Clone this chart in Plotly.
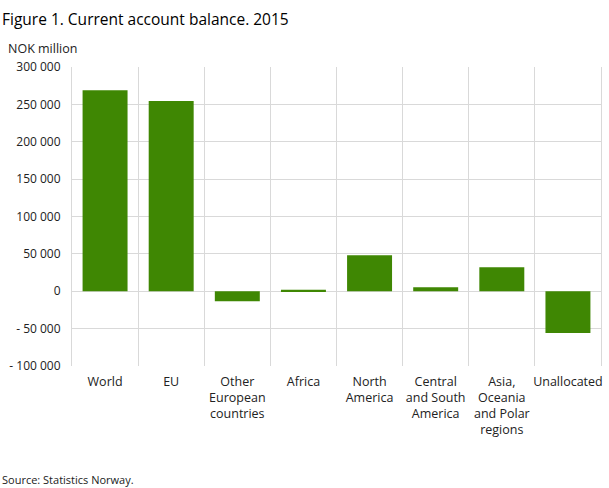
import plotly.graph_objects as go

categories = ["World", "EU", "Other<br>European<br>countries", "Africa", "North<br>America",
              "Central<br>and South<br>America", "Asia,<br>Oceania<br>and Polar<br>regions", "Unallocated"]
values = [269000, 254500, -13500, 2000, 48000, 5500, 32000, -56000]
y_tickvals = [-100000, -50000, 0, 50000, 100000, 150000, 200000, 250000, 300000]
y_ticktext = ["- 100 000", "- 50 000", "0", "50 000", "100 000", "150 000", "200 000", "250 000", "300 000"]

FONT = "Open Sans"
GRID = "#d9d9d9"
idx = list(range(len(categories)))

fig = go.Figure()
fig.add_trace(go.Bar(x=idx, y=values, marker_color="#3f8703", width=0.68,
                     marker_line_width=0, showlegend=False))
# invisible trace for the category-separator grid axis
fig.add_trace(go.Scatter(x=[-0.5, len(categories) - 0.5], y=[0, 0], xaxis="x2",
                         mode="lines", line=dict(width=0), hoverinfo="skip", showlegend=False))

fig.update_layout(
    width=609, height=488,
    margin=dict(l=72, r=8, t=67, b=122),
    paper_bgcolor="white", plot_bgcolor="white",
    font=dict(family=FONT, size=12, color="#333333"),
    xaxis=dict(range=[-0.5, len(categories) - 0.5], tickvals=idx, ticktext=categories,
               showgrid=False, zeroline=False, showline=False, ticks="",
               tickfont=dict(size=12.5, color="#222222"), ticklabelstandoff=6,
               automargin=False),
    xaxis2=dict(overlaying="x", range=[-0.5, len(categories) - 0.5], tick0=-0.5, dtick=1,
                showgrid=True, gridcolor=GRID, gridwidth=1, showticklabels=False,
                zeroline=False, showline=False, ticks=""),
    yaxis=dict(range=[-100000, 300000], tickvals=y_tickvals, ticktext=y_ticktext,
               showgrid=True, gridcolor=GRID, gridwidth=1, zeroline=False,
               showline=True, linecolor=GRID, linewidth=1, mirror=True,
               ticks="", tickfont=dict(size=12, color="#222222"),
               ticklabelstandoff=8, automargin=False),
    annotations=[
        dict(text="Figure 1. Current account balance. 2015", x=0, y=1, xref="paper", yref="paper",
             xanchor="left", yanchor="top", showarrow=False,
             font=dict(family=FONT, size=15.5, color="#000000"),
             xshift=-72, yshift=67 - 6),
        dict(text="NOK million", x=0, y=1, xref="paper", yref="paper",
             xanchor="left", yanchor="top", showarrow=False,
             font=dict(family=FONT, size=12.5, color="#222222"),
             xshift=-66, yshift=67 - 38),
        dict(text="Source: Statistics Norway.", x=0, y=0, xref="paper", yref="paper",
             xanchor="left", yanchor="top", showarrow=False,
             font=dict(family=FONT, size=11, color="#222222"),
             xshift=-72, yshift=-(470 - 366)),
    ],
)
fig.write_html("out.html", config={"displayModeBar": False},
               post_script="document.body.style.margin='0';document.body.style.overflow='hidden';")
